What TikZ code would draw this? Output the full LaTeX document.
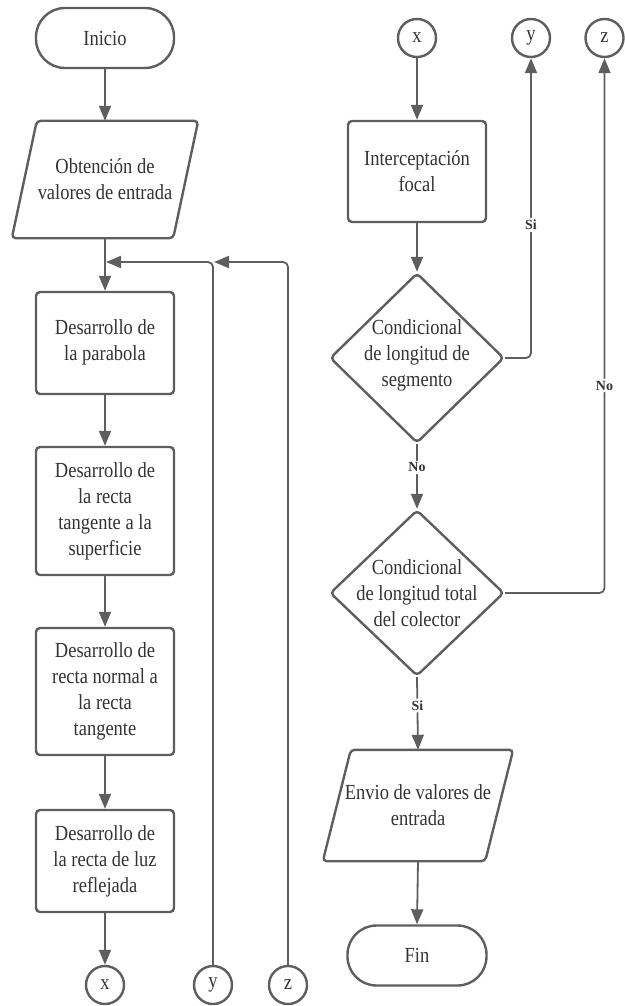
\documentclass[tikz,border=0pt]{standalone}
\usepackage{fontspec}
\setmainfont[FakeStretch=0.86]{Liberation Serif}
\newfontfamily\lblfont{Liberation Serif}
\usetikzlibrary{arrows.meta,shapes.geometric}
\definecolor{ln}{HTML}{5E5E5E}
\definecolor{tx}{HTML}{333333}
\tikzset{
  shp/.style={draw=ln, line width=2.4pt, rounded corners=4pt},
  txt/.style={text=tx, font=\fontsize{21.5}{26}\selectfont, align=center},
  procbox/.style={shp, txt, rectangle, minimum width=138pt, minimum height=101pt, inner sep=0pt},
  termbox/.style={shp, txt, rectangle, rounded corners=29pt, minimum width=138pt, minimum height=60pt, inner sep=0pt},
  conn/.style={shp, txt, circle, minimum size=38pt, inner sep=0pt},
  ghost/.style={rectangle, minimum width=161pt, inner sep=0pt, txt},
  decbox/.style={shp, diamond, minimum width=174pt, minimum height=170pt, inner sep=0pt},
  arr/.style={draw=ln, line width=1.8pt, -{Triangle[length=15pt,width=12pt]}, rounded corners=5pt},
  lbl/.style={fill=white, text=tx, font=\lblfont\bfseries\fontsize{14}{16}\selectfont, inner sep=2pt}
}
\begin{document}
\begin{tikzpicture}[x=1pt,y=-1pt]
\useasboundingbox (0,0) rectangle (624,1006);
% left column
\node[termbox] (inicio) at (105,38) {Inicio};
\node[ghost, minimum height=117pt] (p1) at (105,179.5) {Obtención de\\valores de entrada};
\draw[shp] ([xshift=12.5pt]p1.north west) -- ([xshift=12.5pt]p1.north east) -- ([xshift=-12.5pt]p1.south east) -- ([xshift=-12.5pt]p1.south west) -- cycle;
\node[procbox, minimum height=102pt] (b1) at (105,343) {Desarrollo de\\la parabola\\[-20pt]};
\node[procbox, minimum height=128pt] (b2) at (105,511) {Desarrollo de\\la recta\\tangente a la\\superficie};
\node[procbox, minimum height=127pt] (b3) at (105,691.5) {Desarrollo de\\recta normal a\\la recta\\tangente};
\node[procbox, minimum height=102pt] (b4) at (105,861) {Desarrollo de\\la recta de luz\\reflejada};
\node[conn] (xb) at (105,985) {x};
\node[conn] (yb) at (213,985) {y};
\node[conn] (zb) at (288,985) {z};
\coordinate (m1) at (106,262);
\coordinate (m2) at (214,262);
% right column
\node[conn] (xt) at (417,38) {x};
\node[conn] (yt) at (531,38) {y};
\node[conn] (zt) at (604.5,38) {z};
\node[procbox] (ifoc) at (417,171.5) {Interceptación\\focal};
\node[decbox] (d1) at (417,358) {};
\node[txt] (d1t) at (417,355) {Condicional\\de longitud de\\segmento};
\node[decbox, minimum height=166pt] (d2) at (417,593) {};
\node[txt] (d2t) at (417,593) {Condicional\\de longitud total\\del colector};
\node[ghost, minimum width=162pt, minimum height=111pt] (p2) at (418,805.5) {Envio de valores de\\entrada};
\draw[shp] ([xshift=14pt]p2.north west) -- ([xshift=14pt]p2.north east) -- ([xshift=-14pt]p2.south east) -- ([xshift=-14pt]p2.south west) -- cycle;
\node[termbox, minimum width=139pt] (fin) at (417,955.5) {Fin};
% connectors left
\draw[arr] (inicio.south) -- (p1.north);
\draw[arr] (p1.south) -- (b1.north);
\draw[arr] (yb.north) |- (m1);
\draw[arr] (zb.north) |- (m2);
\draw[arr] (b1.south) -- (b2.north);
\draw[arr] (b2.south) -- (b3.north);
\draw[arr] (b3.south) -- (b4.north);
\draw[arr] (b4.south) -- (xb.north);
% connectors right
\draw[arr] (xt.south) -- (ifoc.north);
\draw[arr] (ifoc.south) -- (d1.north);
\draw[arr] (d1.east) -| node[lbl, pos=0.722] (lsi1) {Si} (yt.south);
\draw[arr] (d1.south) -- node[lbl, pos=0.36] (lno1) {No} (d2.north);
\draw[arr] (d2.east) -| node[lbl, pos=0.694] (lno2) {No} (zt.south);
\draw[arr] (d2.south) -- node[lbl, pos=0.39] (lsi2) {Si} (p2.north);
\draw[arr] (p2.south) -- (fin.north);
\end{tikzpicture}
\end{document}
